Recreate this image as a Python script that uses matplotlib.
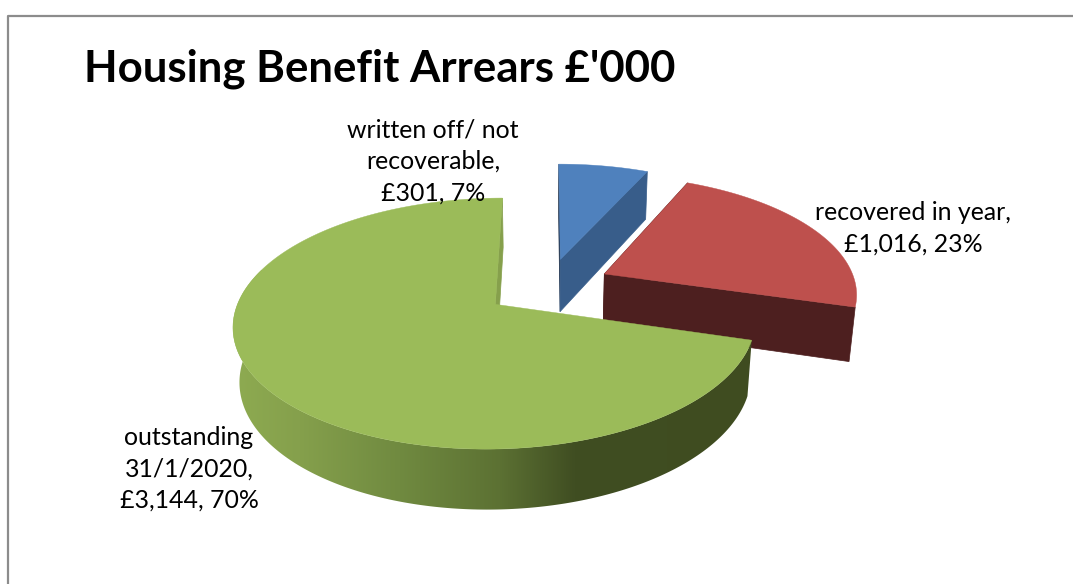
import numpy as np
import matplotlib
matplotlib.use("Agg")
import matplotlib.pyplot as plt
from matplotlib.patches import Polygon

names = ["written off/ not\nrecoverable,", "recovered in year,", "outstanding\n31/1/2020,"]
values = [301, 1016, 3144]
label_pos = [(433, 161.5), (913, 228.5), (189, 469)]
title = "Housing Benefit Arrears £'000"

top_colors = ["#4F81BD", "#BE504D", "#9BBB59"]
side_colors = ["#385D8A", "#4D1F1F", "#3F4C20"]

# pie projection settings
xc, yc = 548, 286
ax_a, ax_b = 252, 117
depth = 54.5
persp_y = 0.15
persp_d = 0.02
explode = [0.24, 0.25, 0.255]


def project(x, y, d=0.0):
    w = 1 + persp_y * y + persp_d * d
    return xc + ax_a * x / w, yc + (-ax_b * y + depth * d) / w


def rim(th, off, d=0.0):
    return project(np.sin(th) + off[0], np.cos(th) + off[1], d)


def radial_wall(ax, th, off, color):
    xt, yt = rim(th, off)
    xb, yb = rim(th, off, 1)
    x0, y0 = project(off[0], off[1])
    x1, y1 = project(off[0], off[1], 1)
    ax.fill([x0, xt, xb, x1], [y0, yt, yb, y1], color=color, lw=0.5, zorder=2)


def green_shade():
    stops = [233, 300, 400, 500, 575, 760]
    reds = [0x8E, 0x85, 0x70, 0x5C, 0x40, 0x3F]
    greens = [0xAB, 0xA0, 0x8A, 0x71, 0x4E, 0x4C]
    blues = [0x51, 0x4C, 0x40, 0x33, 0x22, 0x20]
    px = np.arange(225, 770)
    row = np.dstack([np.interp(px, stops, reds), np.interp(px, stops, greens),
                     np.interp(px, stops, blues)]).astype(np.uint8)
    return np.repeat(row, 4, axis=0)


fig = plt.figure(figsize=(10.73, 5.84), dpi=100)
ax = fig.add_axes([0, 0, 1, 1])

# outer frame, runs off the right and bottom edges
ax.plot([8, 8, 1073], [584, 15.5, 15.5], color="#8C8C8C", lw=1.6, zorder=1)

total = sum(values)
edges = np.radians(np.cumsum([0] + values) / total * 360)

for i in range(len(values)):
    start, end = edges[i], edges[i + 1]
    mid = (start + end) / 2
    off = (explode[i] * np.sin(mid), explode[i] * np.cos(mid))
    th = np.linspace(start, end, 300)

    # walls first, then the flat top
    if i == 2:
        radial_wall(ax, end, off, "#86A04C")
        front = th[th < np.radians(290)]
        xt, yt = rim(front, off)
        xb, yb = rim(front, off, 1)
        wall = Polygon(np.c_[np.r_[xt, xb[::-1]], np.r_[yt, yb[::-1]]], transform=ax.transData,
                       facecolor="none", edgecolor="none")
        ax.add_patch(wall)
        img = ax.imshow(green_shade(), extent=(225, 770, 530, 270), aspect="auto",
                        interpolation="bilinear", zorder=2 + i)
        img.set_clip_path(wall)
    else:
        radial_wall(ax, start, off, "#24364F" if i == 0 else side_colors[i])
        radial_wall(ax, end, off, side_colors[i])

    xs, ys = rim(th, off)
    x0, y0 = project(off[0], off[1])
    ax.fill(np.r_[x0, xs], np.r_[y0, ys], color=top_colors[i], lw=0.3, zorder=3 + i)

ax.set_xlim(0, 1073)
ax.set_ylim(584, 0)
ax.axis("off")

for i in range(len(values)):
    pct = values[i] / total * 100
    text = f"{names[i]}\n£{values[i]:,}, {pct:.0f}%"
    ax.text(label_pos[i][0], label_pos[i][1], text, ha="center", va="center", fontsize=17.9,
            family="Lato", color="black", linespacing=1.44, zorder=10)

ax.text(84, 68.5, title, ha="left", va="center", fontsize=31.5, family="Lato", fontweight="bold",
        color="black", zorder=10)

fig.savefig("out.png", dpi=100)
